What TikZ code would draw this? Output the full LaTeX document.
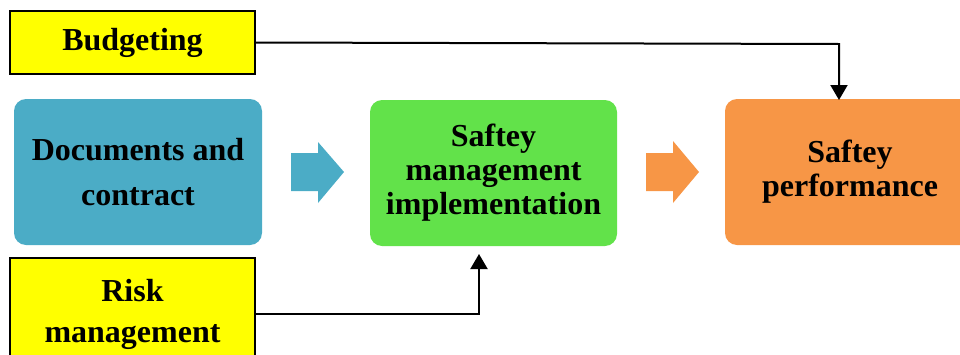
\documentclass[tikz,border=0pt]{standalone}
\usepackage{fontspec}
\setmainfont{Liberation Serif}
\usetikzlibrary{arrows.meta}
\definecolor{docblue}{HTML}{4BACC6}
\definecolor{implgreen}{HTML}{62E24A}
\definecolor{perforange}{HTML}{F79646}
\definecolor{inputyellow}{HTML}{FFFF00}

\begin{document}
\begin{tikzpicture}[x=0.5pt,y=-0.5pt,-{Triangle[length=7.5pt,width=8.5pt]},line width=1pt]
    \tikzstyle{label}=[font=\fontsize{16}{17}\selectfont\bfseries,align=center,inner sep=0pt]
    \tikzstyle{stage}=[label,rounded corners=6pt,minimum width=124pt,minimum height=73pt]
    \tikzstyle{input}=[label,draw=black,fill=inputyellow,minimum width=122.5pt]

    \useasboundingbox (0,0) rectangle (960,354);

    \node[input,minimum height=31.5pt] (budget) at (132.5,42.5) {Budgeting};
    \node[input,minimum height=56pt,font=\fontsize{16}{20.5}\selectfont\bfseries] (risk) at (132.5,314) {Risk\\management};

    \node[stage,fill=docblue,font=\fontsize{16}{22.5}\selectfont\bfseries] (docs) at (138,172) {Documents and\\contract};
    \node[stage,fill=implgreen,minimum width=123.5pt] (impl) at (493.5,173) {Saftey\\management\\implementation};
    \node[stage,fill=perforange,minimum width=125pt] (perf) at (850,172) {Saftey\\performance};

    \fill[docblue] (291,153) -- (318,153) -- (318,142) -- (344,172) -- (318,203) -- (318,191) -- (291,191) -- cycle;
    \fill[perforange] (646,153) -- (673,153) -- (673,141) -- (699,172) -- (673,203) -- (673,191) -- (646,191) -- cycle;

    \coordinate (B-1) at (839,44);
    \coordinate (R-1) at (479,314);
    \draw (budget.east) -- (B-1) -- ([yshift=-1pt]perf.north -| B-1);
    \draw (risk.east) -- (R-1) -- ([yshift=-3.5pt]impl.south -| R-1);
\end{tikzpicture}
\end{document}
